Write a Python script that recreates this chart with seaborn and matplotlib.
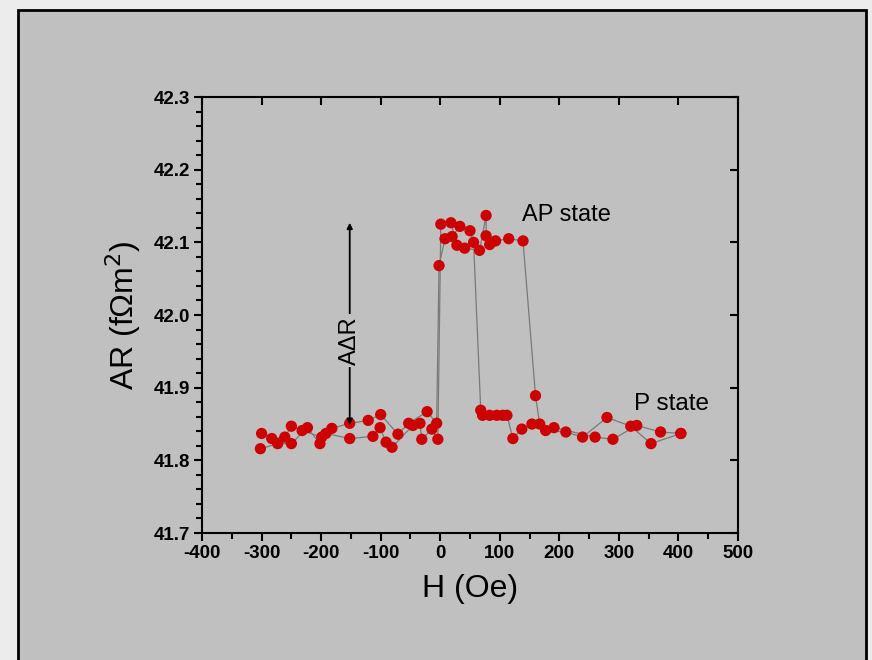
import matplotlib
matplotlib.use('Agg')
import matplotlib.pyplot as plt
from matplotlib.patches import Rectangle
from matplotlib.ticker import MultipleLocator, FormatStrFormatter
import seaborn as sns
import pandas as pd

# sweep with increasing field (Oe) and area-resistance (fOhm m^2)
h_up = [-300, -283, -261, -250, -232, -199, -182, -152, -121, -100, -71, -53, -22, -6,
        -2, 8, 20, 33, 50, 56, 68, 71, 83, 95, 105, 112, 122, 137, 154, 177, 211, 239,
        280, 320, 354, 404]
ar_up = [41.837, 41.830, 41.832, 41.847, 41.841, 41.832, 41.844, 41.851, 41.855, 41.863,
         41.836, 41.851, 41.867, 41.851, 42.068, 42.105, 42.108, 42.122, 42.116, 42.100,
         41.869, 41.862, 41.862, 41.862, 41.862, 41.862, 41.830, 41.843, 41.850, 41.841,
         41.839, 41.832, 41.859, 41.847, 41.823, 41.837]

# sweep with decreasing field
h_down = [404, 370, 330, 290, 260, 191, 167, 160, 139, 115, 93, 83, 77, 77, 66, 41, 28,
          18, 1, -4, -14, -31, -34, -46, -81, -91, -101, -113, -152, -192, -202, -223,
          -250, -273, -302]
ar_down = [41.837, 41.839, 41.848, 41.829, 41.832, 41.845, 41.850, 41.889, 42.102, 42.105,
           42.102, 42.097, 42.109, 42.137, 42.089, 42.092, 42.096, 42.127, 42.125, 41.829,
           41.843, 41.829, 41.851, 41.848, 41.818, 41.825, 41.845, 41.833, 41.830, 41.837,
           41.823, 41.845, 41.823, 41.823, 41.816]

df = pd.concat([
    pd.DataFrame({'H': h_up, 'AR': ar_up, 'sweep': 'up'}),
    pd.DataFrame({'H': h_down, 'AR': ar_down, 'sweep': 'down'}),
], ignore_index=True)

sns.set_theme(style='ticks')
plt.rcParams['font.family'] = ['Liberation Sans', 'DejaVu Sans']
plt.rcParams['text.color'] = 'black'
plt.rcParams['axes.labelcolor'] = 'black'
plt.rcParams['xtick.color'] = 'black'
plt.rcParams['ytick.color'] = 'black'
plt.rcParams['axes.unicode_minus'] = False

bg = '#c0c0c0'
fig = plt.figure(figsize=(8.72, 6.6), dpi=100, facecolor='#ececec')
fig.patches.append(Rectangle((0.021, -0.02), 0.972, 1.005, transform=fig.transFigure,
                             facecolor=bg, edgecolor='black', linewidth=2, zorder=-1))
ax = fig.add_axes([0.2317, 0.1924, 0.6146, 0.6606])
ax.set_facecolor(bg)

sns.lineplot(data=df, x='H', y='AR', units='sweep', estimator=None, sort=False,
             color='#7a7a7a', linewidth=0.9, ax=ax)
sns.scatterplot(data=df, x='H', y='AR', color='#cc0000', s=66, edgecolor='none',
                zorder=3, ax=ax)

ax.set_xlim(-400, 500)
ax.set_ylim(41.7, 42.3)
ax.xaxis.set_major_locator(MultipleLocator(100))
ax.xaxis.set_minor_locator(MultipleLocator(50))
ax.yaxis.set_major_locator(MultipleLocator(0.1))
ax.yaxis.set_minor_locator(MultipleLocator(0.02))
ax.yaxis.set_major_formatter(FormatStrFormatter('%.1f'))

for s in ax.spines.values():
    s.set_linewidth(1.5)
    s.set_color('black')
ax.tick_params(which='major', direction='out', length=6, width=1.5, color='black', pad=2.5)
ax.tick_params(which='minor', direction='out', length=4, width=1.5, color='black')
for lab in ax.get_xticklabels() + ax.get_yticklabels():
    lab.set_family(['Liberation Sans Narrow', 'Liberation Sans', 'DejaVu Sans'])
    lab.set_fontweight('bold')
    lab.set_fontsize(13.5)

top = ax.secondary_xaxis('top')
top.xaxis.set_major_locator(MultipleLocator(100))
top.tick_params(direction='in', length=6, width=1.5, labeltop=False)
right = ax.secondary_yaxis('right')
right.yaxis.set_major_locator(MultipleLocator(0.1))
right.tick_params(direction='in', length=6, width=1.5, labelright=False)

ax.set_xlabel('H (Oe)', fontsize=23, labelpad=9)
ax.set_ylabel('AR (f\u03a9m$^2$)', fontsize=23, labelpad=8)

ax.text(137, 42.138, 'AP state', fontsize=17, va='center', ha='left')
ax.text(325, 41.877, 'P state', fontsize=17.5, va='center', ha='left')

ax.annotate('', xy=(-152, 42.127), xytext=(-152, 41.849),
            arrowprops=dict(arrowstyle='<|-|>', color='black', lw=1.3,
                            mutation_scale=8, shrinkA=0, shrinkB=0))
ax.text(-152, 41.965, 'A\u0394R', rotation=90, fontsize=17, ha='center', va='center',
        bbox=dict(facecolor=bg, edgecolor='none', pad=1.5))

fig.savefig('out.png', dpi=100, facecolor=fig.get_facecolor())
